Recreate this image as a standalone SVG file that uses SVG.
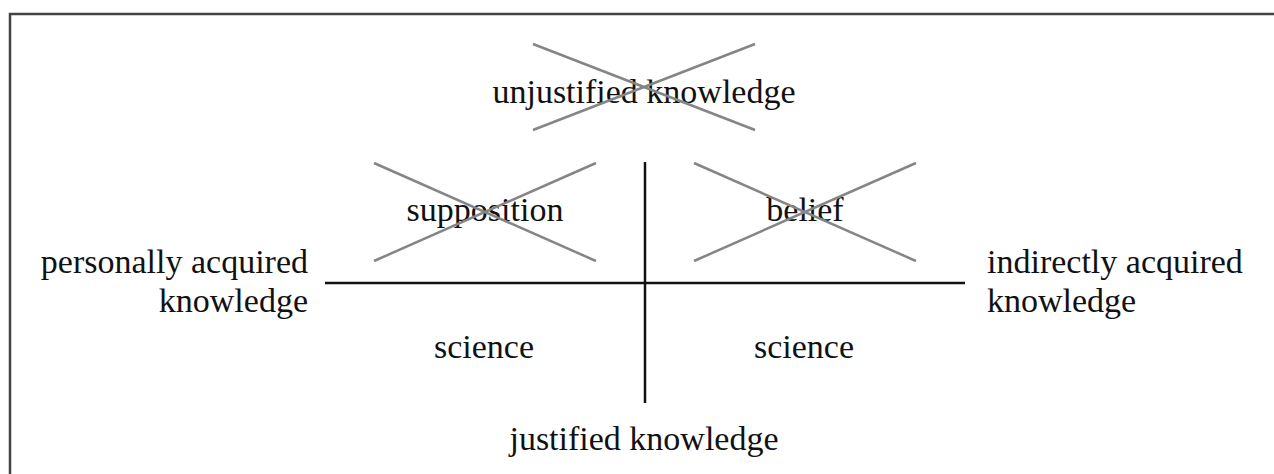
<svg xmlns="http://www.w3.org/2000/svg" width="1274" height="474" viewBox="0 0 1274 474">
<style>
text{font-family:"Liberation Serif","Times New Roman",serif;font-size:34px;fill:#111}
.c{text-anchor:middle}
.x{stroke:#858585;stroke-width:2.5;fill:none}
.ax{stroke:#111;stroke-width:2.5;fill:none}
</style>
<rect x="0" y="0" width="1274" height="474" fill="#fff"/>
<path d="M10 480 V14 H1280" fill="none" stroke="#444" stroke-width="2.5"/>
<g id="connectors">
<line class="ax" x1="645" y1="162" x2="645" y2="403"/>
<line class="ax" x1="325" y1="283" x2="965" y2="283"/>
</g>
<g id="unjustified">
<text class="c" x="644" y="103">unjustified knowledge</text>
<line class="x" x1="533" y1="44" x2="755" y2="130"/>
<line class="x" x1="755" y1="44" x2="533" y2="130"/>
</g>
<g id="supposition">
<text class="c" x="485" y="221">supposition</text>
<line class="x" x1="374" y1="163" x2="596" y2="261"/>
<line class="x" x1="596" y1="163" x2="374" y2="261"/>
</g>
<g id="belief">
<text class="c" x="805" y="221">belief</text>
<line class="x" x1="694" y1="163" x2="916" y2="261"/>
<line class="x" x1="916" y1="163" x2="694" y2="261"/>
</g>
<g id="personal">
<text x="308" y="273" text-anchor="end">personally acquired</text>
<text x="308" y="312" text-anchor="end">knowledge</text>
</g>
<g id="indirect">
<text x="987" y="273">indirectly acquired</text>
<text x="987" y="312">knowledge</text>
</g>
<g id="science-left"><text class="c" x="484" y="358">science</text></g>
<g id="science-right"><text class="c" x="804" y="358">science</text></g>
<g id="justified"><text class="c" x="644" y="450">justified knowledge</text></g>
</svg>
